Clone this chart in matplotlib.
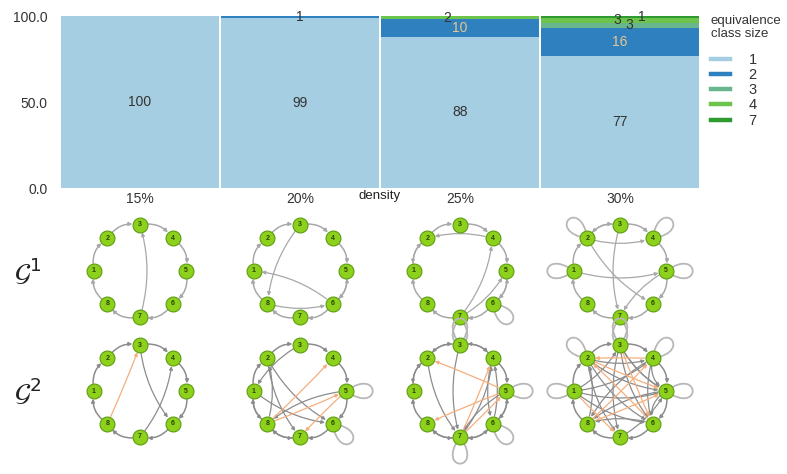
import numpy as np
import matplotlib
matplotlib.use("Agg")
import matplotlib.pyplot as plt
from matplotlib.patches import FancyArrowPatch, PathPatch
from matplotlib.path import Path
from matplotlib.lines import Line2D

plt.rcParams['font.family'] = ['Liberation Sans', 'DejaVu Sans']

# ---------------- data ----------------
densities = ["15%", "20%", "25%", "30%"]
class_sizes = ["1", "2", "3", "4", "7"]
size1 = [100, 99, 88, 77]
size2 = [0, 1, 10, 16]
size3 = [0, 0, 0, 3]
size4 = [0, 0, 2, 3]
size7 = [0, 0, 0, 1]
series = [size1, size2, size3, size4, size7]

row_labels = [r"$\mathcal{G}^1$", r"$\mathcal{G}^2$"]

ring = [(1, 2), (2, 3), (3, 4), (4, 5), (5, 6), (6, 7), (7, 8), (8, 1)]

g1_edges = [
    [(7, 3)],
    [(3, 8), (6, 1), (8, 6), (6, 5)],
    [(4, 2), (7, 4), (7, 5), (6, 5), (2, 1)],
    [(3, 7), (2, 6), (1, 5), (5, 7), (2, 4), (3, 2)],
]
g1_orange = [[], [], [], []]
g1_loops = [[], [], [6, 7], [1, 2, 4, 5, 7]]

g2_edges = [
    [(3, 6), (7, 4)],
    [(3, 1), (2, 7), (2, 6), (1, 6), (8, 2), (5, 8), (1, 8), (8, 7)],
    [(2, 7), (3, 7), (7, 4), (6, 4), (4, 6), (5, 7), (3, 2), (4, 3), (7, 6), (6, 5), (2, 1), (8, 7)],
    [(1, 5), (1, 6), (2, 5), (2, 6), (2, 4), (3, 6), (3, 7), (4, 8), (5, 8), (1, 4), (3, 5),
     (4, 6), (2, 7), (1, 3), (3, 5), (6, 8), (8, 2), (4, 5), (5, 6), (7, 5)],
]
g2_orange = [
    [(8, 3)],
    [(8, 4), (8, 5), (5, 7)],
    [(5, 2), (5, 8), (7, 5), (7, 4)],
    [(2, 5), (3, 6), (8, 5), (1, 7), (4, 2), (6, 2), (8, 4)],
]
g2_loops = [[], [5, 6], [3, 5, 6, 7], [1, 2, 3, 4, 5]]

# ---------------- style ----------------
colors = ['#a6cee3', '#2f80be', '#67b68e', '#6cc44c', '#2f9a30']
text_dark = '#333333'
text_light = '#e8c68c'
label_offsets = {  # (bar index, series index) -> (dx, dy) in points
    (2, 3): (-9, 0),
    (3, 2): (7, 0),
    (3, 3): (-2, 0),
    (3, 4): (16, 0),
}

W, H = 787, 474
fig = plt.figure(figsize=(W / 100, H / 100), dpi=100)

ax_left, ax_right, ax_top, ax_bot = 60, 700, 16, 188
ax = fig.add_axes([ax_left / W, 1 - ax_bot / H, (ax_right - ax_left) / W, (ax_bot - ax_top) / H])
x = np.arange(len(densities))
bottom = np.zeros(len(densities))
for si, vals in enumerate(series):
    vals = np.array(vals, dtype=float)
    ax.bar(x, vals, bottom=bottom, width=0.988, color=colors[si], linewidth=0)
    for i, v in enumerate(vals):
        if v <= 0:
            continue
        cy = bottom[i] + v / 2
        col = text_light if (si == 1 and v >= 5) else text_dark
        dx, dy = label_offsets.get((i, si), (0, 0))
        ax.annotate(f"{int(v)}", (x[i], cy), xytext=(dx, dy), textcoords='offset points',
                    ha='center', va='center', fontsize=10, color=col)
    bottom += vals

ax.set_xlim(-0.5, len(densities) - 0.5)
ax.set_ylim(0, 100)
ax.set_yticks([0, 50, 100])
ax.set_yticklabels(["0.0", "50.0", "100.0"])
ax.set_xticks(x)
ax.set_xticklabels(densities)
ax.tick_params(axis='both', length=0, labelsize=10, labelcolor=text_dark)
ax.tick_params(axis='y', pad=9)
ax.tick_params(axis='x', pad=3)
for s in ax.spines.values():
    s.set_visible(False)
ax.set_xlabel("density", fontsize=9.5, color='#222222')
ax.xaxis.set_label_coords(0.5, -0.048)
ax.xaxis.label.set_va('center')

handles = [Line2D([0], [0], color=c, lw=3.2) for c in colors]
leg = fig.legend(handles, class_sizes, title="equivalence\nclass size", loc='upper left',
                 bbox_to_anchor=(699 / W, 1 - 3 / H), frameon=False, fontsize=10.5,
                 title_fontsize=9.5, handlelength=1.3, handletextpad=1.3, labelspacing=0.08,
                 alignment='left', borderpad=0.3)
for t in leg.get_texts():
    t.set_color(text_dark)
leg.get_title().set_color(text_dark)
leg.get_title().set_linespacing(1.2)
leg._legend_box.sep = 9

# ---------------- graphs ----------------
R_PX = 46.0
GW, GH = 170, 130


def node_pos(k):
    a = np.deg2rad(90 - 45 * (k - 3))
    return np.array([np.cos(a), np.sin(a)])


def draw_loop(gax, k, color):
    p = node_pos(k)
    th = np.arctan2(p[1], p[0])
    L = 0.95
    sp = 0.62
    p1 = p + L * np.array([np.cos(th + sp), np.sin(th + sp)])
    p2 = p + L * np.array([np.cos(th - sp), np.sin(th - sp)])
    path = Path([p, p1, p2, p], [Path.MOVETO, Path.CURVE4, Path.CURVE4, Path.CURVE4])
    gax.add_patch(PathPatch(path, facecolor='none', edgecolor=color, lw=1.3, clip_on=False, zorder=1))


def draw_edge(gax, a, b, color, rad, lw=0.9, zorder=2):
    arr = FancyArrowPatch(node_pos(a), node_pos(b), connectionstyle=f"arc3,rad={rad}",
                          arrowstyle='-|>', mutation_scale=5, shrinkA=5.5, shrinkB=5.5,
                          lw=lw, color=color, clip_on=False, zorder=zorder)
    gax.add_patch(arr)


def draw_graph(gax, edges, orange, loops, gray):
    for k in loops:
        draw_loop(gax, k, '#b8b8b8')
    for a, b in ring:
        draw_edge(gax, a, b, gray, -0.35, lw=1.1)
    for a, b in edges:
        ring_like = ((b - a) % 8 in (1, 7))
        draw_edge(gax, a, b, gray, 0.35 if ring_like else 0.15)
    for a, b in orange:
        draw_edge(gax, a, b, '#f5ae7c', 0.02, lw=0.9, zorder=3)
    pts = np.array([node_pos(k) for k in range(1, 9)])
    gax.scatter(pts[:, 0], pts[:, 1], s=115, color='#8dd11c', edgecolors='#5c9c10',
                linewidths=0.8, zorder=5, clip_on=False)
    for k in range(1, 9):
        p = node_pos(k)
        gax.text(p[0], p[1], str(k), ha='center', va='center', fontsize=5,
                 fontweight='bold', color='#274400', zorder=6)


col_w = (ax_right - ax_left) / len(densities)
row_centers = [271, 391]
groups = [(g1_edges, g1_orange, g1_loops, '#a8a8a8'), (g2_edges, g2_orange, g2_loops, '#8c8c8c')]
for r, (E, O, Lp, gray) in enumerate(groups):
    cy = row_centers[r]
    for i in range(len(densities)):
        cx = ax_left + col_w * (i + 0.5)
        gax = fig.add_axes([(cx - GW / 2) / W, 1 - (cy + GH / 2) / H, GW / W, GH / H])
        gax.set_xlim(-GW / 2 / R_PX, GW / 2 / R_PX)
        gax.set_ylim(-GH / 2 / R_PX, GH / 2 / R_PX)
        gax.axis('off')
        gax.patch.set_alpha(0)
        draw_graph(gax, E[i], O[i], Lp[i], gray)
    fig.text(28 / W, 1 - cy / H, row_labels[r], ha='center', va='center', fontsize=19, color='#222222')

fig.savefig("out.png", dpi=100)
